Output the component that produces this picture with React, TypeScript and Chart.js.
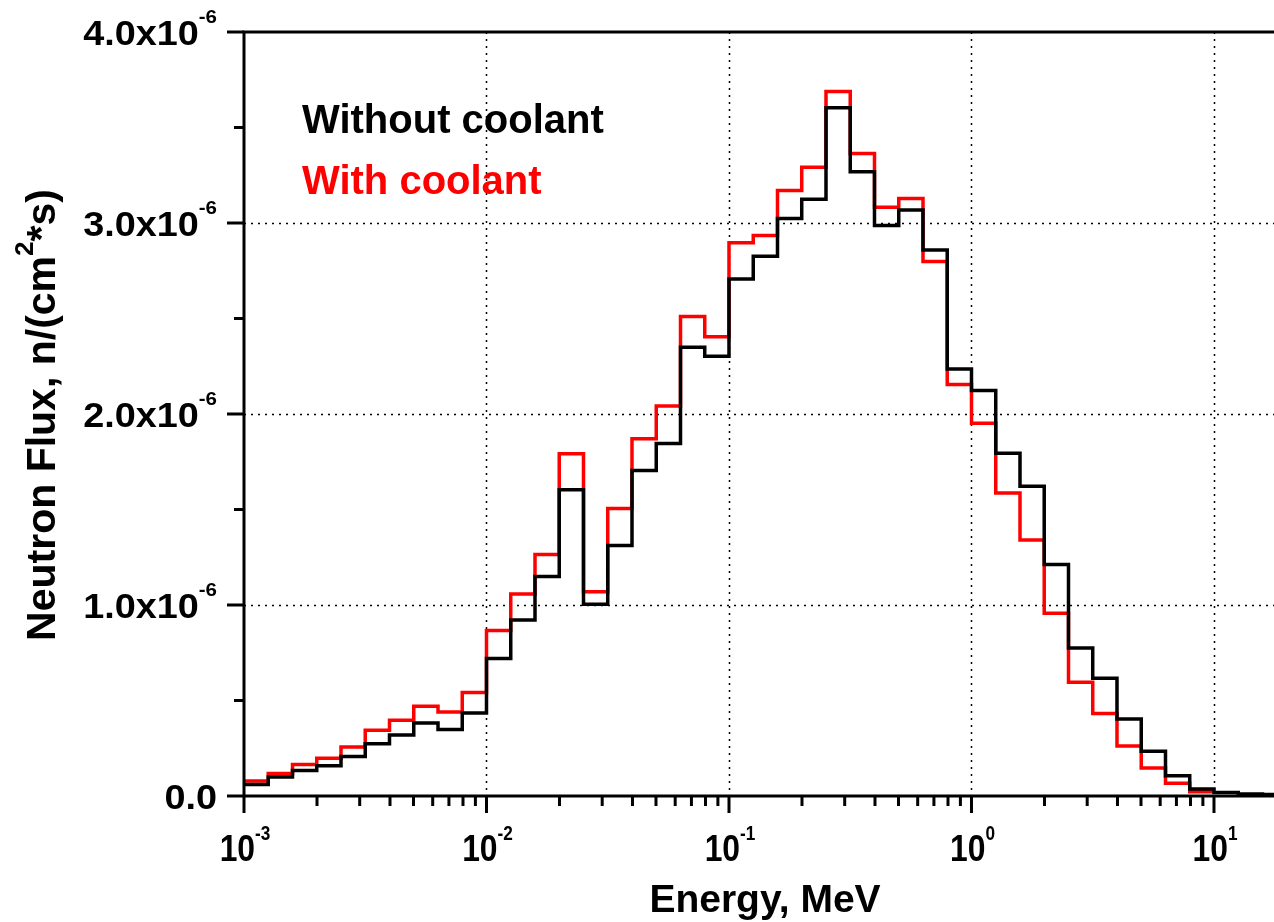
import React, { useEffect, useRef } from "react";
import { Chart, registerables } from "chart.js";

Chart.register(...registerables);

// Flux values are given in units of 1e-6 n/(cm^2*s)
const FLUX_UNIT = 1e-6;

// Energy group boundaries, MeV (10 groups per decade)
const binEdgesMeV = [
  0.001, 0.001259, 0.001585, 0.001995, 0.002512, 0.003162, 0.003981, 0.005012, 0.00631, 0.007943,
  0.01, 0.01259, 0.01585, 0.01995, 0.02512, 0.03162, 0.03981, 0.05012, 0.0631, 0.07943,
  0.1, 0.1259, 0.1585, 0.1995, 0.2512, 0.3162, 0.3981, 0.5012, 0.631, 0.7943,
  1, 1.259, 1.585, 1.995, 2.512, 3.162, 3.981, 5.012, 6.31, 7.943,
  10, 12.59, 15.85, 19.95,
];

const withoutCoolant = [
  0.060, 0.099, 0.134, 0.158, 0.207, 0.274, 0.319, 0.382, 0.348, 0.435,
  0.720, 0.922, 1.149, 1.603, 1.004, 1.312, 1.704, 1.845, 2.349, 2.302,
  2.707, 2.826, 3.023, 3.124, 3.604, 3.268, 2.987, 3.068, 2.858, 2.235,
  2.123, 1.794, 1.622, 1.212, 0.775, 0.616, 0.403, 0.234, 0.106, 0.036,
  0.018, 0.010, 0.008,
];

const withCoolant = [
  0.078, 0.118, 0.165, 0.197, 0.256, 0.344, 0.396, 0.470, 0.440, 0.542,
  0.866, 1.058, 1.265, 1.792, 1.069, 1.505, 1.871, 2.042, 2.510, 2.404,
  2.897, 2.935, 3.170, 3.292, 3.688, 3.364, 3.082, 3.128, 2.798, 2.154,
  1.951, 1.587, 1.340, 0.957, 0.595, 0.432, 0.262, 0.146, 0.067, 0.022,
];

const seriesLabels = ["Without coolant", "With coolant"];
const seriesColors = ["#000000", "#ff0000"];

const X_MIN = 1e-3;
const X_MAX = 17.68;
const Y_MIN = 0;
const Y_MAX = 4e-6;

const xMajorTicks = [1e-3, 1e-2, 1e-1, 1, 10];
const xMajorExponents = ["-3", "-2", "-1", "0", "1"];
const yMajorTicks = [0, 1e-6, 2e-6, 3e-6, 4e-6];
const yMajorMantissas = ["0.0", "1.0x10", "2.0x10", "3.0x10", "4.0x10"];
const yMajorExponents = ["", "-6", "-6", "-6", "-6"];
const yMinorTicks = [0.5e-6, 1.5e-6, 2.5e-6, 3.5e-6];
const xGridValues = [1e-2, 1e-1, 1, 10];
const yGridValues = [1e-6, 2e-6, 3e-6];

const FONT = "'Liberation Sans', Arial, Helvetica, sans-serif";

function histogramPoints(values: number[]) {
  const pts = values.map((v, i) => ({ x: binEdgesMeV[i], y: v * FLUX_UNIT }));
  pts.push({ x: binEdgesMeV[values.length], y: values[values.length - 1] * FLUX_UNIT });
  return pts;
}

// draws "base" followed by a raised "sup", anchored by align
function drawSupText(
  ctx: CanvasRenderingContext2D,
  x: number,
  y: number,
  base: string,
  sup: string,
  align: "left" | "right" | "center",
  baseSize: number,
  supSize: number,
  rise: number,
  sx = 1
) {
  ctx.font = `bold ${baseSize}px ${FONT}`;
  const wb = ctx.measureText(base).width * sx;
  ctx.font = `bold ${supSize}px ${FONT}`;
  const ws = sup ? ctx.measureText(sup).width * sx : 0;
  const total = wb + ws;
  let start = x;
  if (align === "right") start = x - total;
  else if (align === "center") start = x - total / 2;
  ctx.textAlign = "left";
  ctx.textBaseline = "alphabetic";
  ctx.save();
  ctx.translate(start, y);
  ctx.scale(sx, 1);
  ctx.font = `bold ${baseSize}px ${FONT}`;
  ctx.fillText(base, 0, 0);
  ctx.restore();
  if (sup) {
    ctx.save();
    ctx.translate(start + wb, y - rise);
    ctx.scale(sx, 1);
    ctx.font = `bold ${supSize}px ${FONT}`;
    ctx.fillText(sup, 0, 0);
    ctx.restore();
  }
}

const frameAndLabels = {
  id: "frameAndLabels",
  beforeDatasetsDraw(chart: any) {
    const { ctx, chartArea, scales } = chart;
    const xs = scales.x;
    const ys = scales.y;
    ctx.save();
    ctx.strokeStyle = "#000";
    ctx.lineWidth = 1.5;
    ctx.setLineDash([2, 5]);
    xGridValues.forEach((v) => {
      const px = Math.round(xs.getPixelForValue(v)) + 0.5;
      ctx.beginPath();
      ctx.moveTo(px, chartArea.top);
      ctx.lineTo(px, chartArea.bottom);
      ctx.stroke();
    });
    yGridValues.forEach((v) => {
      const py = Math.round(ys.getPixelForValue(v)) + 0.5;
      ctx.beginPath();
      ctx.moveTo(chartArea.left, py);
      ctx.lineTo(chartArea.right, py);
      ctx.stroke();
    });
    ctx.restore();
  },
  afterDraw(chart: any) {
    const { ctx, chartArea, scales } = chart;
    const xs = scales.x;
    const ys = scales.y;
    const { left, right, top, bottom } = chartArea;
    ctx.save();
    ctx.strokeStyle = "#000";
    ctx.fillStyle = "#000";
    ctx.lineWidth = 3;
    ctx.lineCap = "butt";

    // frame: left, bottom, top
    ctx.beginPath();
    ctx.moveTo(left, top - 1.5);
    ctx.lineTo(left, bottom + 1.5);
    ctx.moveTo(left - 1.5, bottom);
    ctx.lineTo(right, bottom);
    ctx.moveTo(left - 1.5, top);
    ctx.lineTo(right, top);
    ctx.stroke();

    // y ticks
    ctx.beginPath();
    yMajorTicks.forEach((v) => {
      const py = ys.getPixelForValue(v);
      ctx.moveTo(left - 17, py);
      ctx.lineTo(left, py);
    });
    yMinorTicks.forEach((v) => {
      const py = ys.getPixelForValue(v);
      ctx.moveTo(left - 10, py);
      ctx.lineTo(left, py);
    });
    // x ticks
    xMajorTicks.forEach((v) => {
      const px = xs.getPixelForValue(v);
      ctx.moveTo(px, bottom);
      ctx.lineTo(px, bottom + 17);
    });
    for (let d = -3; d <= 0; d++) {
      for (let m = 2; m <= 9; m++) {
        const px = xs.getPixelForValue(m * Math.pow(10, d));
        ctx.moveTo(px, bottom);
        ctx.lineTo(px, bottom + 10);
      }
    }
    ctx.stroke();

    // y tick labels
    yMajorTicks.forEach((v, i) => {
      const py = ys.getPixelForValue(v);
      drawSupText(ctx, left - 27, py + 13, yMajorMantissas[i], yMajorExponents[i], "right", 35, 19, 22, 1.08);
    });

    // x tick labels
    xMajorTicks.forEach((v, i) => {
      const px = xs.getPixelForValue(v);
      drawSupText(ctx, px + 1, 861, "10", xMajorExponents[i], "center", 37, 20, 21, 0.86);
    });

    // x title
    ctx.font = `bold 39px ${FONT}`;
    ctx.textAlign = "center";
    ctx.textBaseline = "alphabetic";
    ctx.fillText("Energy, MeV", 765, 912);

    // y title, rotated
    const t1 = "Neutron Flux, n/(cm";
    const t2 = "2";
    const t3 = "*s)";
    ctx.font = `bold 41px ${FONT}`;
    const w1 = ctx.measureText(t1).width;
    const w3 = ctx.measureText(t3).width;
    ctx.font = `bold 26px ${FONT}`;
    const w2 = ctx.measureText(t2).width;
    const total = w1 + w2 + w3;
    ctx.save();
    ctx.translate(55, 415);
    ctx.rotate(-Math.PI / 2);
    ctx.textAlign = "left";
    let cx = -total / 2;
    ctx.font = `bold 41px ${FONT}`;
    ctx.fillText(t1, cx, 0);
    cx += w1;
    ctx.font = `bold 26px ${FONT}`;
    ctx.fillText(t2, cx, -22);
    cx += w2;
    ctx.font = `bold 41px ${FONT}`;
    ctx.fillText(t3, cx, 0);
    ctx.restore();

    // series captions
    ctx.font = `bold 40px ${FONT}`;
    ctx.textAlign = "left";
    ctx.fillStyle = seriesColors[0];
    ctx.fillText(seriesLabels[0], 302, 133);
    ctx.fillStyle = seriesColors[1];
    ctx.fillText(seriesLabels[1], 302, 194);

    ctx.restore();
  },
};

export default function App() {
  const canvasRef = useRef<HTMLCanvasElement | null>(null);

  useEffect(() => {
    const canvas = canvasRef.current;
    if (!canvas) return;
    const chart = new Chart(canvas, {
      type: "line",
      data: {
        datasets: [
          {
            label: seriesLabels[0],
            data: histogramPoints(withoutCoolant),
            borderColor: seriesColors[0],
            backgroundColor: seriesColors[0],
            borderWidth: 3.5,
            stepped: "before",
            pointRadius: 0,
            fill: false,
            borderJoinStyle: "miter",
            borderCapStyle: "butt",
            clip: false,
          },
          {
            label: seriesLabels[1],
            data: histogramPoints(withCoolant),
            borderColor: seriesColors[1],
            backgroundColor: seriesColors[1],
            borderWidth: 3.5,
            stepped: "before",
            pointRadius: 0,
            fill: false,
            borderJoinStyle: "miter",
            borderCapStyle: "butt",
            clip: false,
          },
        ],
      } as any,
      options: {
        animation: false,
        responsive: false,
        devicePixelRatio: 1,
        events: [],
        layout: { padding: { left: 244, top: 32, right: 0, bottom: 126 } },
        plugins: {
          legend: { display: false },
          tooltip: { enabled: false },
        },
        scales: {
          x: { type: "logarithmic", min: X_MIN, max: X_MAX, display: false },
          y: { type: "linear", min: Y_MIN, max: Y_MAX, display: false },
        },
      } as any,
      plugins: [frameAndLabels],
    });
    return () => chart.destroy();
  }, []);

  return (
    <div style={{ position: "absolute", left: 0, top: 0, width: 1274, height: 922, background: "#fff" }}>
      <canvas ref={canvasRef} width={1274} height={922} />
    </div>
  );
}
